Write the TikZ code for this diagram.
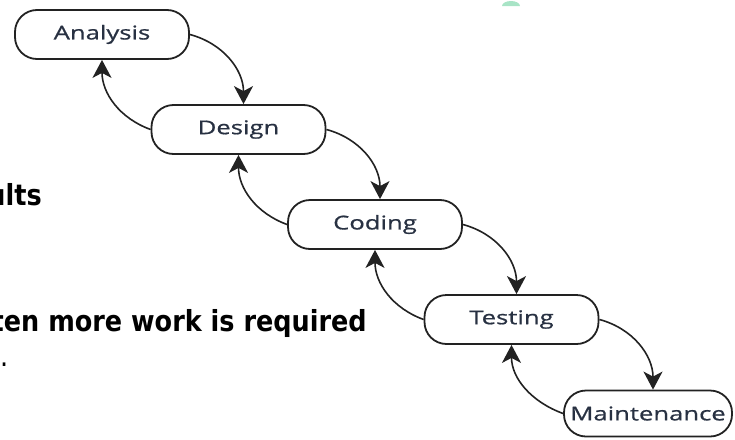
\documentclass[tikz,border=0pt]{standalone}
\usepackage{fontspec}
\setmainfont{Open Sans}
\newfontfamily\phasefont[FakeStretch=1.35,FakeBold=0.8]{Open Sans}
\newfontfamily\notefont[FakeStretch=0.88]{DejaVu Sans}
\usetikzlibrary{positioning,arrows.meta}
\definecolor{linegray}{HTML}{222222}
\definecolor{labelblue}{HTML}{283142}
\definecolor{mintgreen}{HTML}{A8E4C6}
\tikzset{
    node distance=95pt and 136.5pt,
    phase/.style={draw=linegray, line width=1.8pt, line join=round, rectangle, rounded corners=22pt,
        minimum width=174pt, minimum height=49pt, inner sep=0pt, text=labelblue,
        font=\phasefont\fontsize{19pt}{21pt}\selectfont},
    flow/.style={every edge/.append style={-{Stealth[length=18pt,width=19pt,inset=5pt]},
        draw=linegray, line width=1.6pt}},
    note/.style={inner sep=0pt, anchor=base east, font=\notefont\fontsize{29pt}{33pt}\selectfont},
}

\begin{document}
\begin{tikzpicture}
        \useasboundingbox (0,0) rectangle (735pt,-439pt);
        \clip (0,0) rectangle (735pt,-439pt);
        % text cut off at the left
        \node[note] (ults) at (42pt,-205pt) {\bfseries ults};
        \node[note] (work) at (367pt,-331pt) {\bfseries ten more work is required};
        \node[note] (dot) at (9pt,-366pt) {e.};
        \fill[mintgreen] (502pt,-6pt) arc[start angle=180, end angle=0, x radius=9pt, y radius=5pt] -- cycle;
        % the phases
        \node[phase] (ana) at (102pt,-34.5pt) {Analysis};
        \node[phase, on grid, below right=of ana] (des) {Design};
        \node[phase, on grid, below right=of des] (cod) {Coding};
        \node[phase, on grid, below right=of cod] (tes) {Testing};
        \node[phase, on grid, below right=94pt and 136.5pt of tes, minimum width=168pt, minimum height=46pt] (mai) {Maintenance};
        \path[flow]
        (ana.east) edge[out=-15, in=90] ([xshift=5pt]des.north)
        (des.west) edge[out=160, in=-90] (ana.south)
        (des.east) edge[out=-15, in=90] ([xshift=5pt]cod.north)
        (cod.west) edge[out=160, in=-90] (des.south)
        (cod.east) edge[out=-15, in=90] ([xshift=5pt]tes.north)
        (tes.west) edge[out=160, in=-90] (cod.south)
        (tes.east) edge[out=-15, in=90] ([xshift=5pt]mai.north)
        (mai.west) edge[out=160, in=-90] (tes.south)
        ;
    \end{tikzpicture}
\end{document}
